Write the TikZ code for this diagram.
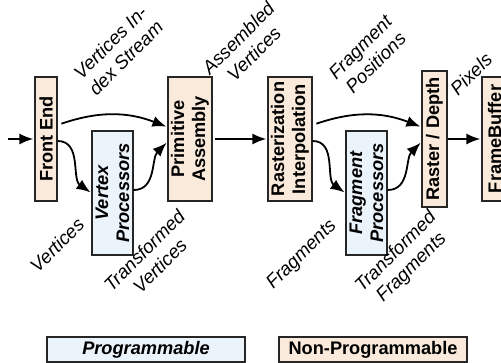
\documentclass[tikz,border=0pt]{standalone}
\usepackage{fontspec}
\setmainfont{Liberation Sans}
\usepackage{tikz}
\usetikzlibrary{arrows.meta}
\definecolor{progblue}{RGB}{235,243,251}
\definecolor{fixedtan}{RGB}{249,234,219}
\tikzstyle{stage}=[draw=black!85,line width=1.3pt,fill=fixedtan,rotate=90,align=center,inner sep=1pt,font=\fontsize{18.2}{21}\selectfont\bfseries,minimum width=124pt]
\tikzstyle{prog}=[stage,fill=progblue,font=\fontsize{18.2}{21}\selectfont\bfseries\itshape]
\tikzstyle{legend}=[draw=black!85,line width=1.3pt,minimum height=25pt,inner sep=1pt,font=\fontsize{18.2}{21}\selectfont\bfseries]
\tikzstyle{note}=[rotate=45,align=center,font=\fontsize{18.8}{22}\selectfont\itshape]

\begin{document}
\begin{tikzpicture}[x=1pt,y=-1pt]
	
	\tikzstyle{arrow}=[-{Latex[length=14pt,width=11pt]},line width=1.8pt,shorten >=1pt];
	
	\useasboundingbox (0,0) rectangle (501,363);
	
	\node (1) [stage,minimum height=22pt] at (46,139) {Front End};
	\node (2) [prog,minimum height=41pt] at (112.5,193) {Vertex\\Processors};
	\node (3) [stage,minimum height=44pt] at (190,139) {Primitive\\Assembly};
	\node (4) [stage,minimum height=44pt] at (290,139) {Rasterization\\Interpolation};
	\node (5) [prog,minimum height=41pt] at (366.5,193) {Fragment\\Processors};
	\node (6) [stage,minimum height=25pt,minimum width=136pt] at (434.5,139) {Raster / Depth};
	\node (7) [stage,minimum height=25pt] at (494.5,139) {FrameBuffer};
	\coordinate (0) at (8,139);
	
	\node (a) [note] at (118,50) {Vertices In-\\dex Stream};
	\node (b) [note] at (246,46) {Assembled\\Vertices};
	\node (c) [note] at (368,55) {Fragment\\Positions};
	\node (d) [note] at (471,74) {Pixels};
	\node (e) [note] at (57,245) {Vertices};
	\node (f) [note] at (152,258) {Transformed\\Vertices};
	\node (g) [note] at (302,255) {Fragments};
	\node (h) [note] at (404,260) {Transformed\\Fragments};
	
	\node (p) [legend,fill=progblue,font=\fontsize{18.2}{21}\selectfont\bfseries\itshape,minimum width=198pt] at (146,349.5) {Programmable};
	\node (q) [legend,fill=fixedtan,minimum width=188pt] at (373,349.5) {Non-Programmable};
	
	\draw[arrow] (0) -- (1.north);
	\draw[arrow,shorten <=4pt] ([yshift=14pt]1.south) to[bend left=20] ([yshift=12pt]3.north);
	\draw[arrow] ([yshift=-2pt]1.south) to[out=0,in=145] (2.north);
	\draw[arrow] ([yshift=3pt]2.south) to[out=0,in=225] ([yshift=-3pt]3.north);
	\draw[arrow,shorten <=2pt] (3.south) -- (4.north);
	\draw[arrow,shorten <=4pt] ([yshift=14pt]4.south) to[bend left=20] ([yshift=12pt]6.north);
	\draw[arrow] ([yshift=-2pt]4.south) to[out=0,in=145] (5.north);
	\draw[arrow] ([yshift=3pt]5.south) to[out=0,in=225] ([yshift=-3pt]6.north);
	\draw[arrow] (6.south) -- (7.north);
\end{tikzpicture}
\end{document}
